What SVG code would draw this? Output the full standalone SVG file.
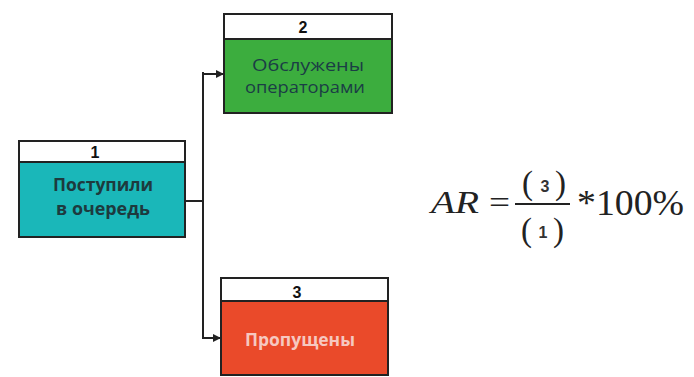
<svg xmlns="http://www.w3.org/2000/svg" width="694" height="377" viewBox="0 0 694 377">
<style>
.hdr{fill:#ffffff;stroke:#222;stroke-width:2}
.body{stroke:#222;stroke-width:2}
.num{font-family:"Liberation Sans",Arial,sans-serif;font-weight:bold;font-size:16px;fill:#111;text-anchor:middle}
.lbl{font-family:"Open Sans","Liberation Sans",sans-serif;font-size:17px;text-anchor:middle}
.conn{fill:none;stroke:#222;stroke-width:2}
.f{font-family:"Liberation Serif","Times New Roman",serif;fill:#222}
.s{font-family:"Liberation Sans",Arial,sans-serif;font-size:16px;font-weight:bold;fill:#333;text-anchor:middle}
</style>
<defs>
<marker id="ah" markerWidth="8" markerHeight="8" refX="7" refY="4" orient="auto" markerUnits="userSpaceOnUse">
<path d="M0,0 L8,4 L0,8 z" fill="#222"/>
</marker>
</defs>
<rect width="694" height="377" fill="#ffffff"/>
<g id="node1">
<rect class="body" x="19" y="162" width="166" height="75" fill="#1ab7b9"/>
<rect class="hdr" x="19" y="141" width="166" height="21"/>
<text class="num" x="95" y="158">1</text>
<text class="lbl" x="103" y="191" font-weight="bold" fill="#1d3a3e" textLength="100" lengthAdjust="spacingAndGlyphs">Поступили</text>
<text class="lbl" x="103" y="215" font-weight="bold" fill="#1d3a3e" textLength="94" lengthAdjust="spacingAndGlyphs">в очередь</text>
</g>
<g id="node2">
<rect class="body" x="224" y="39" width="168" height="74" fill="#3cad3e"/>
<rect class="hdr" x="224" y="14" width="168" height="25"/>
<text class="num" x="303" y="33">2</text>
<text class="lbl" x="308" y="71" fill="#1b3d45" textLength="112" lengthAdjust="spacingAndGlyphs">Обслужены</text>
<text class="lbl" x="305" y="93" fill="#1b3d45" textLength="120" lengthAdjust="spacingAndGlyphs">операторами</text>
</g>
<g id="node3">
<rect class="body" x="221" y="301" width="167" height="74" fill="#ea4a2a"/>
<rect class="hdr" x="221" y="278" width="167" height="23"/>
<text class="num" x="297" y="298">3</text>
<text class="lbl" x="300" y="346" font-weight="bold" fill="#f6c8c0" textLength="110" lengthAdjust="spacingAndGlyphs">Пропущены</text>
</g>
<g id="connectors">
<path class="conn" d="M185,201 H203"/>
<path class="conn" d="M203,72 V339"/>
<path class="conn" d="M203,74 H223" marker-end="url(#ah)"/>
<path class="conn" d="M203,338 H220" marker-end="url(#ah)"/>
</g>
<g id="formula">
<text class="f" x="431" y="213" font-size="32" font-style="italic" textLength="48" lengthAdjust="spacingAndGlyphs">AR</text>
<text class="f" x="489" y="213" font-size="32" textLength="21" lengthAdjust="spacingAndGlyphs">=</text>
<line x1="515" y1="204" x2="570" y2="204" stroke="#222" stroke-width="2"/>
<text class="f" x="522" y="194" font-size="33">(</text>
<text class="s" x="545" y="192">3</text>
<text class="f" x="555" y="194" font-size="33">)</text>
<text class="f" x="521" y="241" font-size="33">(</text>
<text class="s" x="543" y="238">1</text>
<text class="f" x="553" y="241" font-size="33">)</text>
<text class="f" x="577" y="215" font-size="36" textLength="107" lengthAdjust="spacingAndGlyphs">*100%</text>
</g>
</svg>
